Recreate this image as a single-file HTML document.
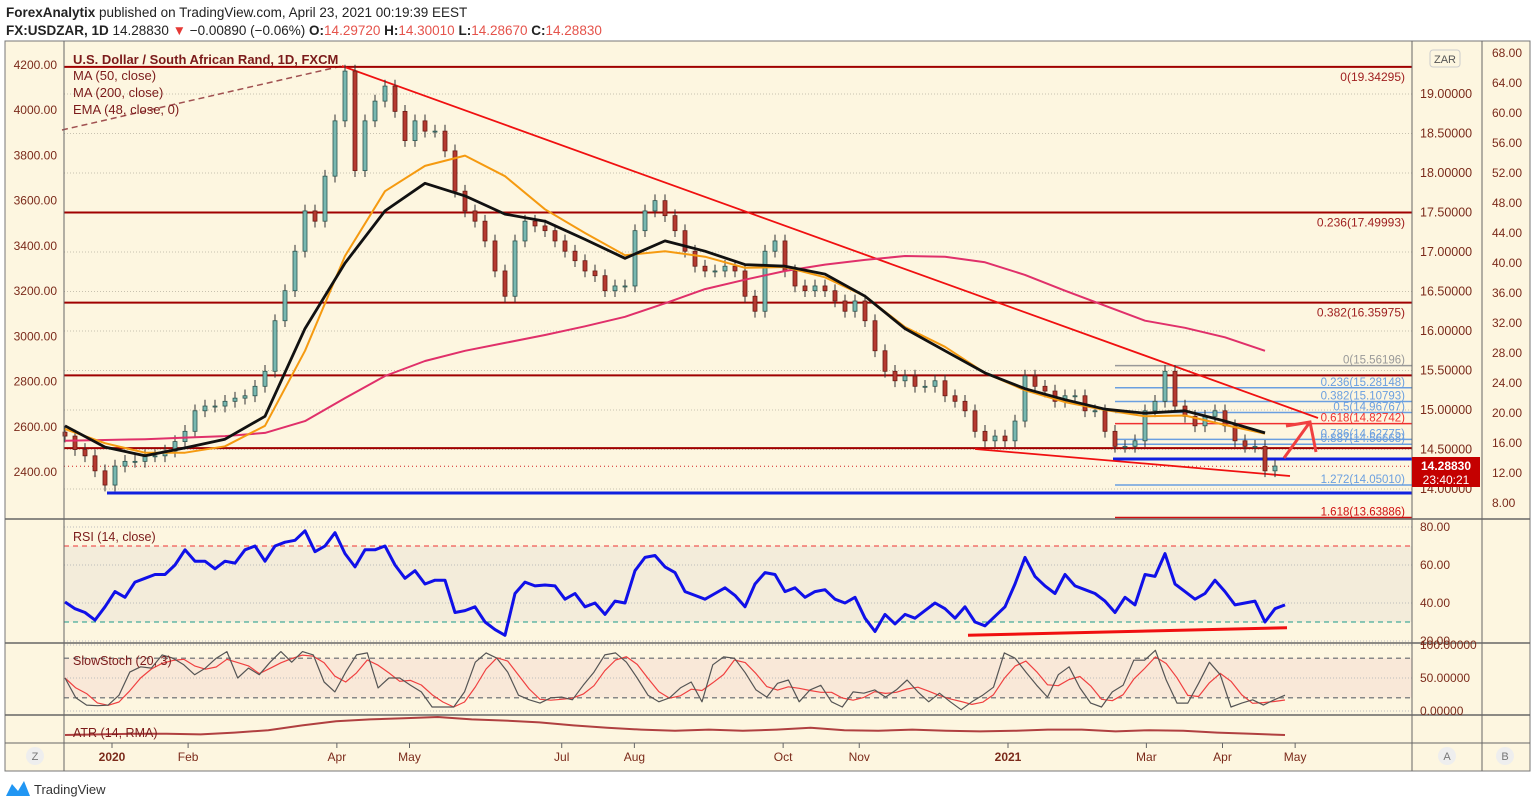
<!DOCTYPE html>
<html><head><meta charset="utf-8"><style>
html,body{margin:0;padding:0;background:#fff;width:1536px;height:807px;overflow:hidden}
svg{display:block;font-family:"Liberation Sans",sans-serif}
</style></head><body>
<svg id="c" width="1536" height="807" viewBox="0 0 1536 807">
<text x="6" y="17" font-size="13.5" fill="#222"><tspan font-weight="bold">ForexAnalytix</tspan> published on TradingView.com, April 23, 2021 00:19:39 EEST</text>
<text x="6" y="35" font-size="13.5" fill="#222"><tspan font-weight="bold">FX:USDZAR, 1D</tspan> 14.28830 <tspan fill="#e53935">▼</tspan> −0.00890 (−0.06%) <tspan font-weight="bold">O:</tspan><tspan fill="#e5534b">14.29720</tspan> <tspan font-weight="bold">H:</tspan><tspan fill="#e5534b">14.30010</tspan> <tspan font-weight="bold">L:</tspan><tspan fill="#e5534b">14.28670</tspan> <tspan font-weight="bold">C:</tspan><tspan fill="#e5534b">14.28830</tspan></text>
<rect x="5" y="41" width="1525" height="730" fill="#fdf6e0" stroke="#777"/>
<g id="bands"></g>
<g id="grid"></g>
<g id="draw"></g>
<g id="marks"></g>
<g id="axes"></g>
</svg>
<script>
// ---- data ----
const closes=[14.67,14.50,14.42,14.23,14.05,14.29,14.35,14.35,14.42,14.42,14.48,14.60,14.73,14.99,15.05,15.05,15.11,15.15,15.18,15.30,15.49,16.13,16.51,17.01,17.52,17.39,17.96,18.66,19.29,18.03,18.66,18.91,19.10,18.78,18.41,18.66,18.53,18.53,18.28,17.77,17.52,17.39,17.14,16.76,16.44,17.14,17.39,17.33,17.27,17.14,17.01,16.89,16.76,16.70,16.51,16.57,16.57,17.27,17.52,17.65,17.46,17.27,17.01,16.82,16.76,16.76,16.82,16.76,16.44,16.25,17.01,17.14,16.76,16.57,16.51,16.57,16.51,16.38,16.25,16.38,16.13,15.75,15.49,15.37,15.43,15.30,15.30,15.37,15.18,15.11,14.99,14.73,14.61,14.67,14.61,14.86,15.43,15.30,15.24,15.11,15.18,15.18,14.99,14.99,14.73,14.54,14.54,14.61,14.99,15.11,15.49,15.05,14.92,14.80,14.92,14.99,14.80,14.61,14.54,14.54,14.23,14.29];
const ma50=[14.80,14.53,14.42,14.52,14.63,14.92,16.03,16.86,17.52,17.87,17.71,17.48,17.39,17.16,16.92,17.14,17.01,16.84,16.82,16.72,16.44,16.03,15.75,15.47,15.27,15.13,15.01,14.96,14.99,14.86,14.71];
const ema48=[14.76,14.58,14.46,14.46,14.54,14.80,15.75,16.95,17.77,18.09,18.22,17.96,17.54,17.24,16.96,17.01,16.94,16.80,16.81,16.68,16.44,16.05,15.80,15.47,15.25,15.10,15.00,14.92,14.93,14.81,14.70];
const ma200=[14.61,14.62,14.63,14.65,14.67,14.71,14.86,15.15,15.43,15.62,15.75,15.85,15.95,16.06,16.18,16.35,16.53,16.65,16.76,16.84,16.90,16.95,16.94,16.87,16.71,16.51,16.32,16.13,16.04,15.92,15.75];
const rsi=[40.5,37,35,31,38,46,43,51,53,55,55,60,68,62,62,58,62,61,68,70,62,70,72,73,78,67,70,77,66,59,68,68,70,60,53,57,50,52,52,35,36,38,30,26,23,45,51,49,49.5,49,42,45,38,40,34,41,40,57,64,65,59,56,46,44,42,45,48,44,38,50,56,55,46,48,43,46,47,42,40,43,32,25,34,29,34,32,36,40,37,32,38,30,28,33,38,50,64,54,49,45,55,49,47,45,41,35,43,39,55,54,66,50,46,42,45,52,46,39,40,41,30,37,39];
const stochK=[50,20,9,8,9,24,59,67,65,85,80,70,55,65,80,90,50,65,55,74,90,74,90,85,44,29,59,85,88,35,50,50,39,29,6,6,6,29,74,88,80,59,24,17,12,20,21,17,39,59,85,88,74,50,24,14,20,35,44,14,70,82,80,58,32,21,42,47,14,32,39,14,6,29,27,32,21,32,47,29,14,27,14,2,14,24,36,88,80,59,39,21,55,67,35,12,6,29,39,77,77,92,47,12,12,42,74,55,6,12,17,9,17,24];
const atr=[0.10,0.11,0.12,0.12,0.11,0.14,0.18,0.26,0.33,0.36,0.38,0.40,0.36,0.34,0.31,0.26,0.22,0.19,0.17,0.19,0.17,0.19,0.22,0.18,0.17,0.19,0.17,0.16,0.17,0.19,0.19,0.16,0.18,0.17,0.14,0.12,0.10];
const leftTicks=[4200,4000,3800,3600,3400,3200,3000,2800,2600,2400];
const priceTicks=[19,18.5,18,17.5,17,16.5,16,15.5,15,14.5,14];
const farTicks=[68,64,60,56,52,48,44,40,36,32,28,24,20,16,12,8];
const rsiTicks=[80,60,40,20];
const months=["2020","Feb","Apr","May","Jul","Aug","Oct","Nov","2021","Mar","Apr","May"];
const monthDay=[8,30,73,94,138,159,202,224,267,307,329,350];
const hLevels=[19.34295,17.49993,16.35975,15.43824,14.51673];
const fibVals=[15.56196,15.28148,15.10793,14.96767,14.82742,14.62775,14.56668,14.05010,13.63886];
const fibLabels=["0(15.56196)","0.236(15.28148)","0.382(15.10793)","0.5(14.96767)","0.618(14.82742)","0.786(14.62775)","0.887(14.56668)","1.272(14.05010)","1.618(13.63886)"];
const fibColors=["#999","#6a9fe0","#6a9fe0","#6a9fe0","#f03030","#6a9fe0","#6a9fe0","#6a9fe0","#d01010"];
// ---- scales ----
const X0=65,STEP=10;
const xI=i=>X0+STEP*i;
const yP=p=>94+(19-p)*79;
const yL=v=>65+(4200-v)*0.2261;
const yF=v=>53+(68-v)*7.5;
const yR=v=>527+(80-v)*1.9;
const yS=v=>711-v*0.66;
const yA=v=>741-v*60;
const NS="http://www.w3.org/2000/svg";
function mk(t,a,parent){const e=document.createElementNS(NS,t);for(const k in a)e.setAttribute(k,a[k]);document.getElementById(parent).appendChild(e);return e;}
function txt(parent,x,y,s,str,fill,anchor,w){const e=mk('text',{x:x,y:y,'font-size':s,fill:fill,'text-anchor':anchor||'start','font-weight':w||'normal'},parent);e.textContent=str;return e;}
function poly(vals,xf,yf,parent,stroke,sw){const pts=vals.map((v,i)=>xf(i).toFixed(1)+','+yf(v).toFixed(1)).join(' ');return mk('polyline',{points:pts,fill:'none',stroke:stroke,'stroke-width':sw,'stroke-linejoin':'round'},parent);}
let e;
e=mk('line',{x1:5,y1:519,x2:1530,y2:519,stroke:'#666','stroke-width':1.5},'axes');
e=mk('line',{x1:5,y1:643,x2:1530,y2:643,stroke:'#666','stroke-width':1.5},'axes');
e=mk('line',{x1:5,y1:715,x2:1530,y2:715,stroke:'#666','stroke-width':1.5},'axes');
e=mk('line',{x1:5,y1:743,x2:1530,y2:743,stroke:'#666','stroke-width':1},'axes');
e=mk('line',{x1:64,y1:41,x2:64,y2:771,stroke:'#666'},'axes');
e=mk('line',{x1:1412,y1:41,x2:1412,y2:771,stroke:'#666'},'axes');
e=mk('line',{x1:1482,y1:41,x2:1482,y2:771,stroke:'#666'},'axes');
e=mk('rect',{x:64,y:yR(70),width:1348,height:yR(30)-yR(70),fill:'#f3ecda'},'bands');
e=mk('rect',{x:64,y:yS(80),width:1348,height:yS(20)-yS(80),fill:'#f9e8d8'},'bands');
priceTicks.forEach(p=>{mk('line',{x1:64,y1:yP(p),x2:1412,y2:yP(p),stroke:'#c8c2b0','stroke-dasharray':'1 2'},'grid');
 e=txt('axes',1420,yP(p)+4,12.5,p.toFixed(5),'#7b2a1a');});
leftTicks.forEach(v=>{e=txt('axes',57,yL(v)+4,12,v.toFixed(2),'#7b2a1a','end');});
farTicks.forEach(v=>{e=txt('axes',1492,yF(v)+4,12,v.toFixed(2),'#7b2a1a');});
rsiTicks.forEach(v=>{mk('line',{x1:64,y1:yR(v),x2:1412,y2:yR(v),stroke:'#bbb','stroke-dasharray':'1 2'},'grid');
 e=txt('axes',1420,yR(v)+4,12,v.toFixed(2),'#7b2a1a');});
[100,50,0].forEach(v=>{mk('line',{x1:64,y1:yS(v),x2:1412,y2:yS(v),stroke:'#bbb','stroke-dasharray':'1 2'},'grid');
 e=txt('axes',1420,yS(v)+4,12,v.toFixed(5),'#7b2a1a');});
[[70,'#e33'],[30,'#1a9a8a']].forEach(a=>mk('line',{x1:64,y1:yR(a[0]),x2:1412,y2:yR(a[0]),stroke:a[1],'stroke-dasharray':'5 4'},'grid'));
[80,20].forEach(v=>mk('line',{x1:64,y1:yS(v),x2:1412,y2:yS(v),stroke:'#888','stroke-dasharray':'5 4','stroke-width':1.5},'grid'));
months.forEach((m,i)=>{const x=112+(monthDay[i]-8)*(1008-112)/(267-8);
 mk('line',{x1:x,y1:743,x2:x,y2:748,stroke:'#666'},'axes');
 e=txt('axes',x,761,12,m,'#7b2a1a','middle',(m==='2020'||m==='2021')?'bold':'normal');});
mk('line',{x1:62,y1:130,x2:342,y2:66,stroke:'#a05050','stroke-width':1.5,'stroke-dasharray':'6 4'},'draw');
hLevels.forEach((p,i)=>{e=mk('line',{x1:64,y1:yP(p),x2:1412,y2:yP(p),stroke:'#a00000','stroke-width':2},'draw');});
txt('draw',1405,yP(19.34295)+14,12,'0(19.34295)','#a02020','end');
txt('draw',1405,yP(17.49993)+14,12,'0.236(17.49993)','#a02020','end');
txt('draw',1405,yP(16.35975)+14,12,'0.382(16.35975)','#a02020','end');
fibVals.forEach((p,i)=>{e=mk('line',{x1:1115,y1:yP(p),x2:1412,y2:yP(p),stroke:fibColors[i],'stroke-width':1.5},'draw');
 e=txt('draw',1405,yP(p)-2,11.5,fibLabels[i],fibColors[i],'end');});
e=mk('line',{x1:1113,y1:yP(14.38),x2:1412,y2:yP(14.38),stroke:'#1020e0','stroke-width':3},'draw');
e=mk('line',{x1:107,y1:yP(13.95),x2:1412,y2:yP(13.95),stroke:'#1020e0','stroke-width':3},'draw');
mk('line',{x1:64,y1:yP(14.2883),x2:1412,y2:yP(14.2883),stroke:'#d02020','stroke-dasharray':'1 3'},'draw');
e=mk('line',{x1:342,y1:66,x2:1318,y2:418,stroke:'#f01010','stroke-width':1.8},'draw');
e=mk('line',{x1:975,y1:449,x2:1290,y2:476,stroke:'#f01010','stroke-width':1.8},'draw');
e=mk('path',{d:'M1284 458 L1310 422 M1286 426 L1310 422 L1316 452',stroke:'#f04040','stroke-width':3,fill:'none'},'draw');
e=mk('line',{x1:968,y1:yR(23),x2:1287,y2:yR(27),stroke:'#f01010','stroke-width':3},'draw');
closes.forEach((c,i)=>{const o=i?closes[i-1]:c+0.05;const hi=Math.max(o,c)+0.08,lo=Math.min(o,c)-0.08;const up=c>=o;const x=xI(i);
 mk('line',{x1:x,y1:yP(hi),x2:x,y2:yP(lo),stroke:'#333'},'marks');
 const r=mk('rect',{x:x-2,y:yP(Math.max(o,c)),width:4,height:Math.max(1,Math.abs(yP(o)-yP(c))),fill:up?'#78b8b0':'#b53a30',stroke:up?'#2d5550':'#6a1a15','stroke-width':0.8},'marks');
 
 });
const maX=i=>X0+40*i;
e=poly(ma200,maX,yP,'marks','#e0306a',2);
e=poly(ema48,maX,yP,'marks','#f59a10',2);
e=poly(ma50,maX,yP,'marks','#111',2.8);
e=poly(rsi,xI,yR,'marks','#1010e8',3);
const sx=i=>65+i*(1285-65)/(stochK.length-1);
const stochD=stochK.map((v,i)=>{const a=stochK.slice(Math.max(0,i-2),i+1);return a.reduce((s,x)=>s+x,0)/a.length;});
e=poly(stochD,sx,yS,'marks','#f04040',1.2);
e=poly(stochK,sx,yS,'marks','#555',1.2);
const ax=i=>65+i*(1285-65)/(atr.length-1);
e=poly(atr,ax,yA,'marks','#b04040',2);
e=txt('axes',73,64,13,'U.S. Dollar / South African Rand, 1D, FXCM','#7b1a1a','start','bold');
['MA (50, close)','MA (200, close)','EMA (48, close, 0)'].forEach((s,i)=>{e=txt('axes',73,80+i*17,13,s,'#7b1a1a');});
e=txt('axes',73,541,12.5,'RSI (14, close)','#7b1a1a');
e=txt('axes',73,665,12.5,'SlowStoch (20, 3)','#7b1a1a');
e=txt('axes',73,737,12.5,'ATR (14, RMA)','#7b1a1a');
e=mk('rect',{x:1412,y:457,width:68,height:30,fill:'#c40000'},'axes');
txt('axes',1446,470,12,'14.28830','#fff','middle','bold');
txt('axes',1446,484,12,'23:40:21','#fff','middle');
e=mk('rect',{x:1430,y:50,width:30,height:17,rx:3,fill:'#fdf6e0',stroke:'#ccc'},'axes');
txt('axes',1445,63,11,'ZAR','#555','middle');
[[35,'Z','zoom-button'],[1447,'A','auto-scale-button'],[1505,'B','log-scale-button']].forEach(b=>{e=mk('circle',{cx:b[0],cy:756,r:9,fill:'#eee'},'axes');txt('axes',b[0],760,11,b[1],'#777','middle');});
e=mk('path',{d:'M6 796 L12 784 L18 791 L24 781 L30 796 Z',fill:'#2196f3'},'axes');
e=txt('axes',34,794,13,'TradingView','#333');
</script>
</body></html>
